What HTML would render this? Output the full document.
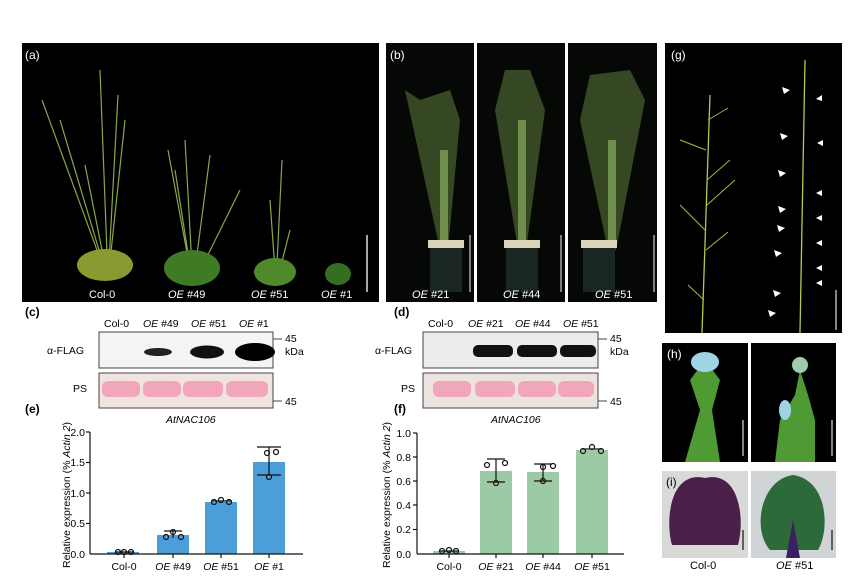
<!DOCTYPE html><html><head><style>body{margin:0;background:#fff}svg{display:block;font-family:"Liberation Sans",sans-serif}</style></head><body>
<svg width="855" height="585" viewBox="0 0 855 585">
<!-- (a) -->
<rect x="22" y="43" width="357" height="259" fill="#000"/>
<g stroke="#8aa84a" stroke-width="1.2" fill="none">
<path d="M108 280 L100 70 M108 280 L118 95 M108 280 L85 165 M108 280 L125 120 M108 280 L60 120 M108 280 L42 100"/>
<path d="M193 285 L185 140 M193 285 L210 155 M193 285 L175 170 M193 285 L240 190 M193 285 L168 150"/>
<path d="M276 285 L282 160 M276 285 L290 230 M276 285 L270 200"/>
</g>
<ellipse cx="105" cy="265" rx="28" ry="16" fill="#8a9a30"/>
<ellipse cx="192" cy="268" rx="28" ry="18" fill="#3f7a25"/>
<ellipse cx="275" cy="272" rx="21" ry="14" fill="#4e8a2a"/>
<ellipse cx="338" cy="274" rx="13" ry="11" fill="#356e22"/>
<line x1="367" y1="235" x2="367" y2="292" stroke="#ddd" stroke-width="1.5"/>
<g fill="#fff" font-size="11"><text x="25" y="59" font-size="12">(a)</text>
<text x="89" y="298">Col-0</text><text x="168" y="298"><tspan font-style="italic">OE</tspan> #49</text><text x="251" y="298"><tspan font-style="italic">OE</tspan> #51</text><text x="321" y="298"><tspan font-style="italic">OE</tspan> #1</text></g>
<!-- (b) -->
<g>
<rect x="386" y="43" width="88" height="259" fill="#050805"/>
<rect x="477" y="43" width="88" height="259" fill="#050805"/>
<rect x="568" y="43" width="89" height="259" fill="#050805"/>
<g fill="#5f7d3d" opacity="0.55">
<polygon points="440,250 448,250 460,120 450,90 420,100 405,90"/>
<polygon points="518,250 526,250 545,110 530,70 505,70 495,110"/>
<polygon points="608,250 616,250 645,100 630,70 590,75 580,120"/>
</g>
<g fill="#7ea055" opacity="0.8"><rect x="440" y="150" width="8" height="95"/><rect x="518" y="120" width="8" height="125"/><rect x="608" y="140" width="8" height="105"/></g>
<rect x="430" y="245" width="32" height="47" fill="#1a2622"/><rect x="506" y="245" width="32" height="47" fill="#1a2622"/><rect x="583" y="245" width="32" height="47" fill="#1a2622"/>
<rect x="428" y="240" width="36" height="8" fill="#d8d4b8"/><rect x="504" y="240" width="36" height="8" fill="#d8d4b8"/><rect x="581" y="240" width="36" height="8" fill="#d8d4b8"/>
<g stroke="#ccc" stroke-width="1.2"><line x1="470" y1="235" x2="470" y2="292"/><line x1="561" y1="235" x2="561" y2="292"/><line x1="654" y1="235" x2="654" y2="292"/></g>
<g fill="#fff" font-size="11"><text x="390" y="59" font-size="12">(b)</text>
<text x="412" y="298"><tspan font-style="italic">OE</tspan> #21</text><text x="503" y="298"><tspan font-style="italic">OE</tspan> #44</text><text x="595" y="298"><tspan font-style="italic">OE</tspan> #51</text></g>
</g>
<!-- (g) -->
<rect x="665" y="43" width="177" height="290" fill="#000"/>
<g stroke="#b8c84a" stroke-width="1.3" fill="none"><path d="M702 333 L710 95"/><path d="M800 333 L805 60"/></g>
<g stroke="#a8b840" stroke-width="1"><path d="M704 300 L688 285 M706 250 L728 232 M705 230 L680 205 M707 180 L730 160 M706 150 L680 140 M708 120 L728 108 M707 205 L735 180"/></g>
<g fill="#fff">
<polygon points="782,87 790,90 784,94"/><polygon points="822,95 816,99 822,101"/><polygon points="780,133 788,136 782,140"/><polygon points="778,170 786,173 780,177"/><polygon points="778,206 786,209 780,213"/><polygon points="774,250 782,253 776,257"/><polygon points="768,310 776,313 770,317"/><polygon points="822,190 816,193 822,196"/><polygon points="822,240 816,243 822,246"/><polygon points="822,280 816,283 822,286"/><polygon points="823,140 817,143 823,146"/><polygon points="773,290 781,293 775,297"/><polygon points="777,225 785,228 779,232"/><polygon points="822,215 816,218 822,221"/><polygon points="822,265 816,268 822,271"/>
</g>
<line x1="836" y1="290" x2="836" y2="330" stroke="#ddd" stroke-width="1.2"/>
<text x="671" y="59" fill="#fff" font-size="12">(g)</text>
<!-- (h) -->
<rect x="662" y="343" width="86" height="119" fill="#000"/><rect x="751" y="343" width="85" height="119" fill="#000"/>
<path d="M685 462 L700 410 L690 380 L705 360 L720 380 L712 410 L720 462Z" fill="#4f9a32"/>
<ellipse cx="705" cy="362" rx="14" ry="10" fill="#9fd4e4"/>
<path d="M775 462 L780 420 L795 395 L800 370 L808 395 L815 420 L815 462Z" fill="#4f9a32"/>
<circle cx="800" cy="365" r="8" fill="#9ecab0"/><ellipse cx="785" cy="410" rx="6" ry="10" fill="#9fd4e4"/>
<g stroke="#ddd" stroke-width="1.2"><line x1="743" y1="420" x2="743" y2="456"/><line x1="832" y1="420" x2="832" y2="456"/></g>
<text x="667" y="358" fill="#fff" font-size="12">(h)</text>
<!-- (i) -->
<rect x="662" y="471" width="86" height="87" fill="#d8dad8"/><rect x="751" y="471" width="85" height="87" fill="#d0d4d6"/>
<path d="M705 478 C670 470 665 520 672 545 L738 545 C745 520 740 470 705 478Z" fill="#4a1f4a"/>
<path d="M793 475 C760 480 752 530 770 550 L818 550 C830 530 828 480 793 475Z" fill="#2d6a3a"/>
<path d="M786 558 L793 520 L800 558Z" fill="#3a2060"/>
<text x="666" y="486" font-size="12" fill="#000">(i)</text>
<g stroke="#111" stroke-width="1.2"><line x1="743" y1="530" x2="743" y2="550"/><line x1="832" y1="530" x2="832" y2="550"/></g>
<g font-size="11" fill="#000"><text x="690" y="569">Col-0</text><text x="776" y="569"><tspan font-style="italic">OE</tspan> #51</text></g>
<!-- (c) -->
<g font-size="11" fill="#000">
<text x="25" y="316" font-weight="bold" font-size="12">(c)</text>
<text x="104" y="327" font-size="10.5">Col-0</text><text x="143" y="327" font-size="10.5"><tspan font-style="italic">OE</tspan> #49</text><text x="191" y="327" font-size="10.5"><tspan font-style="italic">OE</tspan> #51</text><text x="239" y="327" font-size="10.5"><tspan font-style="italic">OE</tspan> #1</text>
<text x="47" y="354" font-size="10.5">α-FLAG</text><text x="73" y="392" font-size="10.5">PS</text>
<text x="285" y="342" font-size="10.5">45</text><text x="285" y="355" font-size="10.5">kDa</text><text x="285" y="405" font-size="10.5">45</text>
<text x="166" y="423" font-style="italic" font-size="10.5">AtNAC106</text>
</g>
<rect x="99" y="332" width="174" height="36" fill="#f4f4f4" stroke="#444"/>
<ellipse cx="158" cy="352" rx="14" ry="4" fill="#222"/><ellipse cx="207" cy="352" rx="17" ry="6.5" fill="#111"/><ellipse cx="255" cy="352" rx="20" ry="9" fill="#000"/>
<rect x="99" y="373" width="174" height="35" fill="#f1e4e0" stroke="#444"/>
<g fill="#f2a6ba"><rect x="102" y="381" width="38" height="16" rx="6"/><rect x="143" y="381" width="38" height="16" rx="6"/><rect x="183" y="381" width="40" height="16" rx="6"/><rect x="226" y="381" width="42" height="16" rx="6"/></g>
<g stroke="#444"><line x1="273" y1="339" x2="282" y2="339"/><line x1="273" y1="401" x2="282" y2="401"/></g>
<!-- (d) -->
<g font-size="10.5" fill="#000">
<text x="394" y="316" font-weight="bold" font-size="12">(d)</text>
<text x="428" y="327">Col-0</text><text x="468" y="327"><tspan font-style="italic">OE</tspan> #21</text><text x="515" y="327"><tspan font-style="italic">OE</tspan> #44</text><text x="563" y="327"><tspan font-style="italic">OE</tspan> #51</text>
<text x="375" y="354">α-FLAG</text><text x="401" y="392">PS</text>
<text x="610" y="342">45</text><text x="610" y="355">kDa</text><text x="610" y="405">45</text>
<text x="491" y="423" font-style="italic">AtNAC106</text>
</g>
<rect x="423" y="332" width="175" height="36" fill="#ececec" stroke="#444"/>
<g fill="#111"><rect x="473" y="345" width="40" height="12" rx="5"/><rect x="517" y="345" width="40" height="12" rx="5"/><rect x="560" y="345" width="36" height="12" rx="5"/></g>
<rect x="423" y="373" width="175" height="35" fill="#ece2e0" stroke="#444"/>
<g fill="#f2a6ba"><rect x="433" y="381" width="38" height="16" rx="6"/><rect x="475" y="381" width="40" height="16" rx="6"/><rect x="518" y="381" width="38" height="16" rx="6"/><rect x="558" y="381" width="36" height="16" rx="6"/></g>
<g stroke="#444"><line x1="598" y1="339" x2="607" y2="339"/><line x1="598" y1="401" x2="607" y2="401"/></g>
<!-- (e) chart -->
<text x="25" y="413" font-weight="bold" font-size="12">(e)</text>
<g fill="#4a9fd8"><rect x="107" y="552" width="32" height="2"/><rect x="157" y="535" width="32" height="19"/><rect x="205" y="502" width="32" height="52"/><rect x="253" y="462" width="32" height="92"/></g>
<g stroke="#111" stroke-width="1.2" fill="none">
<line x1="90" y1="432" x2="90" y2="554"/><line x1="90" y1="554" x2="303" y2="554"/>
<line x1="86" y1="432" x2="90" y2="432"/><line x1="86" y1="462.5" x2="90" y2="462.5"/><line x1="86" y1="493" x2="90" y2="493"/><line x1="86" y1="523.5" x2="90" y2="523.5"/>
<line x1="124" y1="554" x2="124" y2="558"/><line x1="173" y1="554" x2="173" y2="558"/><line x1="221" y1="554" x2="221" y2="558"/><line x1="269" y1="554" x2="269" y2="558"/>
<path d="M164 531 H182 M173 531 V538 M211 501 H231 M257 447 H281 M269 447 V475 M257 475 H281 M115 552 H133"/>
<circle cx="118" cy="552" r="2.5"/><circle cx="124" cy="552" r="2.5"/><circle cx="131" cy="552" r="2.5"/>
<circle cx="166" cy="537" r="2.5"/><circle cx="173" cy="532" r="2.5"/><circle cx="181" cy="537" r="2.5"/>
<circle cx="214" cy="502" r="2.5"/><circle cx="221" cy="500" r="2.5"/><circle cx="229" cy="502" r="2.5"/>
<circle cx="267" cy="453" r="2.5"/><circle cx="276" cy="452" r="2.5"/><circle cx="269" cy="477" r="2.5"/>
</g>
<g font-size="10.5" fill="#000" text-anchor="end"><text x="85" y="436">2.0</text><text x="85" y="466">1.5</text><text x="85" y="497">1.0</text><text x="85" y="527">0.5</text><text x="85" y="558">0.0</text></g>
<g font-size="10.5" fill="#000" text-anchor="middle"><text x="124" y="570">Col-0</text><text x="173" y="570"><tspan font-style="italic">OE</tspan> #49</text><text x="221" y="570"><tspan font-style="italic">OE</tspan> #51</text><text x="269" y="570"><tspan font-style="italic">OE</tspan> #1</text></g>
<text transform="translate(70,495) rotate(-90)" font-size="10.5" text-anchor="middle">Relative expression (% <tspan font-style="italic">Actin 2</tspan>)</text>
<!-- (f) chart -->
<text x="394" y="413" font-weight="bold" font-size="12">(f)</text>
<g fill="#9ccaa5"><rect x="433" y="551" width="32" height="3"/><rect x="480" y="471" width="32" height="83"/><rect x="527" y="472" width="32" height="82"/><rect x="576" y="450" width="32" height="104"/></g>
<g stroke="#111" stroke-width="1.2" fill="none">
<line x1="417" y1="433" x2="417" y2="554"/><line x1="417" y1="554" x2="624" y2="554"/>
<line x1="413" y1="433" x2="417" y2="433"/><line x1="413" y1="457" x2="417" y2="457"/><line x1="413" y1="481" x2="417" y2="481"/><line x1="413" y1="505" x2="417" y2="505"/><line x1="413" y1="529.5" x2="417" y2="529.5"/>
<line x1="449" y1="554" x2="449" y2="558"/><line x1="496" y1="554" x2="496" y2="558"/><line x1="543" y1="554" x2="543" y2="558"/><line x1="592" y1="554" x2="592" y2="558"/>
<path d="M487 459 H505 M496 459 V482 M487 482 H505 M534 464 H552 M543 464 V481 M534 481 H552 M582 449 H602 M440 551 H458"/>
<circle cx="442" cy="551" r="2.5"/><circle cx="449" cy="550" r="2.5"/><circle cx="456" cy="551" r="2.5"/>
<circle cx="487" cy="465" r="2.5"/><circle cx="505" cy="463" r="2.5"/><circle cx="496" cy="483" r="2.5"/>
<circle cx="543" cy="467" r="2.5"/><circle cx="553" cy="466" r="2.5"/><circle cx="543" cy="481" r="2.5"/>
<circle cx="583" cy="451" r="2.5"/><circle cx="592" cy="447" r="2.5"/><circle cx="601" cy="451" r="2.5"/>
</g>
<g font-size="10.5" fill="#000" text-anchor="end"><text x="411" y="437">1.0</text><text x="411" y="461">0.8</text><text x="411" y="485">0.6</text><text x="411" y="509">0.4</text><text x="411" y="533">0.2</text><text x="411" y="558">0.0</text></g>
<g font-size="10.5" fill="#000" text-anchor="middle"><text x="449" y="570">Col-0</text><text x="496" y="570"><tspan font-style="italic">OE</tspan> #21</text><text x="543" y="570"><tspan font-style="italic">OE</tspan> #44</text><text x="592" y="570"><tspan font-style="italic">OE</tspan> #51</text></g>
<text transform="translate(390,495) rotate(-90)" font-size="10.5" text-anchor="middle">Relative expression (% <tspan font-style="italic">Actin 2</tspan>)</text>
</svg>
</body></html>
